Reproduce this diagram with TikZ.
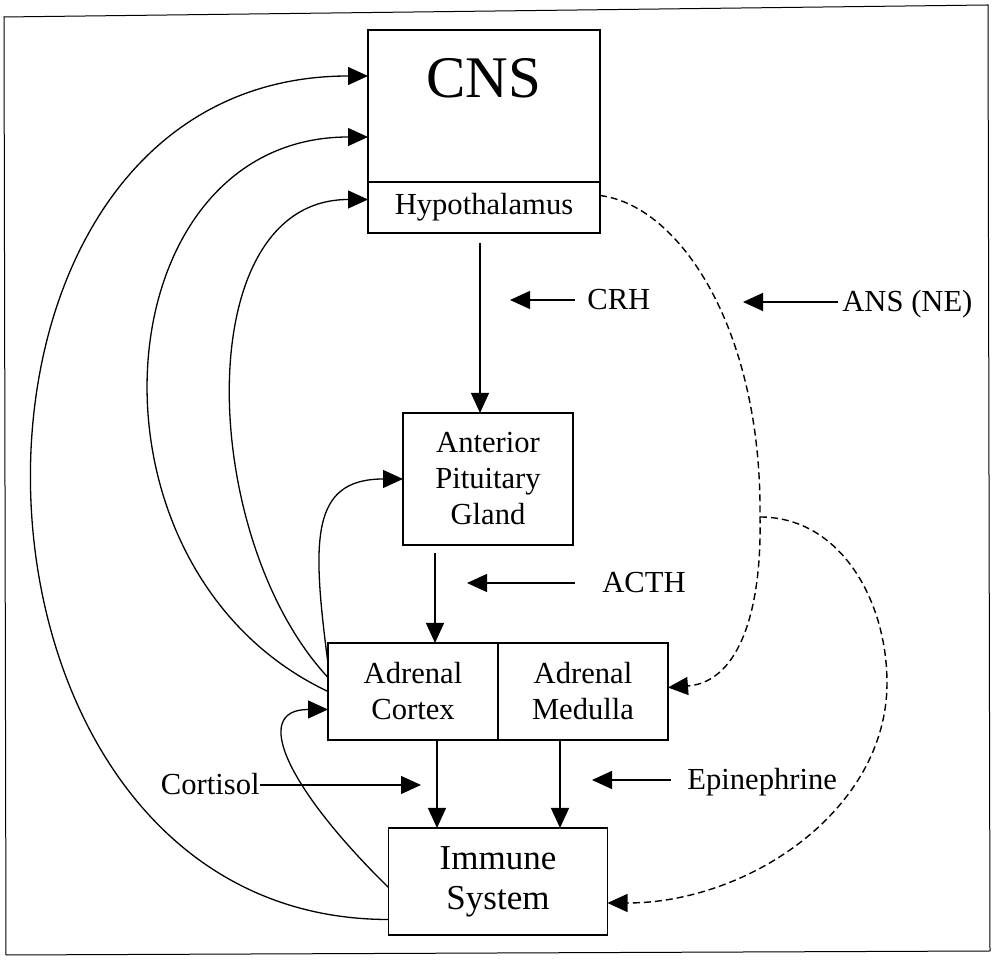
\documentclass[tikz,border=0pt]{standalone}
\usepackage{fontspec}
\setmainfont{Liberation Serif}
\usetikzlibrary{arrows.meta,positioning}
\tikzset{
  organ/.style={draw, line width=0.75pt, inner sep=0pt, outer sep=0pt, align=center, font=\fontsize{15.3}{18}\selectfont},
  hormone/.style={inner sep=0pt, text height=10pt, text depth=0pt, font=\fontsize{15.3}{18}\selectfont},
  arrflow/.style={-{Triangle[length=10pt,width=9pt]}, line width=0.65pt},
  arrdash/.style={arrflow, line width=0.7pt, dash pattern=on 3.5pt off 2pt},
}
\begin{document}
\begin{tikzpicture}[x=0.5pt, y=-0.5pt]
\useasboundingbox (0,0) rectangle (992,961);
% Marco
\draw[line width=0.5pt] (4,17) -- (988,5) -- (990,951) -- (6,955) -- cycle;

% Cajas
\node[organ, minimum width=116pt, minimum height=76pt, text height=20pt, text depth=28pt, font=\fontsize{29.5}{32}\selectfont] (cns) at (484,106) {CNS};
\node[organ, minimum width=116pt, minimum height=25.5pt, below=0pt of cns] (hyp) {Hypothalamus};
\node[organ, minimum width=85pt, minimum height=66pt, below=90pt of hyp, xshift=2pt] (pit) {Anterior\\Pituitary\\Gland};
\node[organ, minimum width=85pt, minimum height=48.5pt, below=49pt of pit, xshift=-37.5pt] (cortex) {Adrenal\\Cortex};
\node[organ, minimum width=85pt, minimum height=48.5pt, right=0pt of cortex] (medulla) {Adrenal\\Medulla};
\node[organ, minimum width=109.5pt, minimum height=53.5pt, below=44pt of cortex.south east, font=\fontsize{17.5}{20}\selectfont] (immune) {Immune\\System};

% Hormonas
\node[hormone, anchor=west] (crh) at (587,300) {CRH};
\node[hormone, anchor=west] (acth) at (602,583) {ACTH};
\node[hormone, anchor=west] (ans) at (842,302) {ANS (NE)};
\node[hormone, anchor=east] (cort) at (260,785) {Cortisol};
\node[hormone, anchor=west] (epi) at (687,780) {Epinephrine};

\coordinate (crhtip) at (510,300);
\coordinate (acthtip) at (467,583);
\coordinate (anstip) at (743,302);
\coordinate (corttip) at (421,785);
\coordinate (epitip) at (592,780);
\coordinate (ansjoin) at (760,517);
\coordinate (ansturn) at (887,683);

\draw[arrflow] ([xshift=-6pt]crh.west) -- (crhtip);
\draw[arrflow] ([xshift=-13.5pt]acth.west) -- (acthtip);
\draw[arrflow] ([xshift=-2pt]ans.west) -- (anstip);
\draw[arrflow] (cort.east) -- (corttip);
\draw[arrflow] ([xshift=-8pt]epi.west) -- (epitip);

% Eje vertical
\draw[arrflow, shorten <=5pt] ([xshift=-2pt]hyp.south) -- ([xshift=-2pt]hyp.south |- pit.north);
\draw[arrflow, shorten <=4pt] ([xshift=16pt]pit.south west) -- ([xshift=16pt]pit.south west |- cortex.north);
\draw[arrflow] ([xshift=-30.5pt]cortex.south east) -- ([xshift=-30.5pt]cortex.south east |- immune.north);
\draw[arrflow] ([xshift=31pt]medulla.south west) -- ([xshift=31pt]medulla.south west |- immune.north);

% Retroalimentacion
\draw[arrflow] ([yshift=-19pt]immune.west) .. controls +(-460,0) and +(-460,0) .. ([yshift=15pt]cns.west);
\draw[arrflow] (cortex.west) .. controls +(-260,-123) and +(-268,0) .. ([yshift=-15.5pt]cns.west);
\draw[arrflow] ([yshift=7pt]cortex.west) .. controls +(-130,-140) and +(-180,0) .. ([yshift=4pt]hyp.west);
\draw[arrflow] ([yshift=14pt]cortex.west) .. controls +(-16,-123) and +(-93,0) .. (pit.west);
\draw[arrflow] ([yshift=-3pt]immune.west) .. controls +(-100,-98) and +(-78,0) .. ([yshift=-9pt]cortex.west);

% ANS
\draw[arrdash] ([yshift=6pt]hyp.east) .. controls +(80,10) and +(2,-187) .. (ansjoin) .. controls +(2,103) and +(67,-5) .. ([yshift=2pt]medulla.east);
\draw[arrdash] (ansjoin) .. controls +(80,0) and +(0,-83) .. (ansturn) .. controls +(0,127) and +(141,0) .. ([yshift=-10.75pt]immune.east);
\end{tikzpicture}
\end{document}
